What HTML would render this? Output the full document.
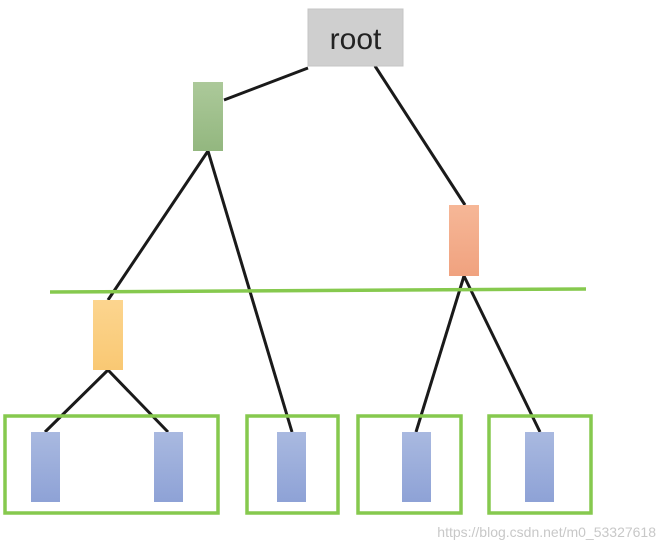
<!DOCTYPE html>
<html><head><meta charset="utf-8"><style>
html,body{margin:0;padding:0;background:#fff;width:664px;height:552px;overflow:hidden}
</style></head><body>
<svg width="664" height="552" viewBox="0 0 664 552" xmlns="http://www.w3.org/2000/svg">
<defs>
<linearGradient id="gb" x1="0" y1="0" x2="0" y2="1"><stop offset="0" stop-color="#a9b9e0"/><stop offset="1" stop-color="#8ea2d6"/></linearGradient>
<linearGradient id="gg" x1="0" y1="0" x2="0" y2="1"><stop offset="0" stop-color="#acc99a"/><stop offset="1" stop-color="#93b77f"/></linearGradient>
<linearGradient id="go" x1="0" y1="0" x2="0" y2="1"><stop offset="0" stop-color="#f6b797"/><stop offset="1" stop-color="#f0a27f"/></linearGradient>
<linearGradient id="gy" x1="0" y1="0" x2="0" y2="1"><stop offset="0" stop-color="#fcd58f"/><stop offset="1" stop-color="#f9c873"/></linearGradient>
</defs>
<g stroke="#1a1a1a" stroke-width="3" fill="none">
<line x1="308" y1="68" x2="224" y2="100"/>
<line x1="375" y1="66" x2="465" y2="205"/>
<line x1="208" y1="151" x2="108" y2="300"/>
<line x1="208" y1="151" x2="292" y2="432"/>
<line x1="464" y1="276" x2="416" y2="432"/>
<line x1="464" y1="276" x2="540" y2="432"/>
<line x1="108" y1="370" x2="45" y2="432"/>
<line x1="108" y1="370" x2="168" y2="432"/>
</g>
<rect x="308" y="9" width="95" height="57" fill="#cfcfcf" stroke="#c4c4c4"/>
<text x="355.5" y="49" font-family="Liberation Sans, sans-serif" font-size="30" fill="#222" text-anchor="middle">root</text>
<rect x="193" y="82" width="30" height="69" fill="url(#gg)"/>
<rect x="449" y="205" width="30" height="71" fill="url(#go)"/>
<rect x="93" y="300" width="30" height="70" fill="url(#gy)"/>
<line x1="50" y1="292" x2="586" y2="289" stroke="#86c94e" stroke-width="3.5"/>
<g fill="url(#gb)">
<rect x="31" y="432" width="29" height="70"/>
<rect x="154" y="432" width="29" height="70"/>
<rect x="277" y="432" width="29" height="70"/>
<rect x="402" y="432" width="29" height="70"/>
<rect x="525" y="432" width="29" height="70"/>
</g>
<g fill="none" stroke="#86c94e" stroke-width="3.5">
<rect x="5" y="416" width="213" height="97"/>
<rect x="247" y="416" width="91" height="97"/>
<rect x="358" y="416" width="103" height="97"/>
<rect x="489" y="416" width="102" height="97"/>
</g>
<text x="656" y="537" font-family="Liberation Sans, sans-serif" font-size="14" fill="#c8c8c8" text-anchor="end">https://blog.csdn.net/m0_53327618</text>
</svg>
</body></html>
